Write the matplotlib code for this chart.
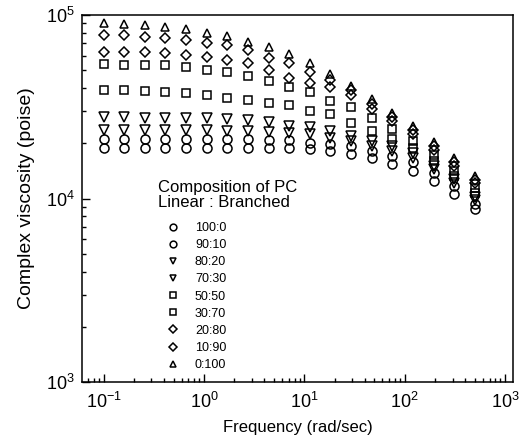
import matplotlib
matplotlib.use("Agg")
from matplotlib import pyplot as plt

plt.rcParams['font.family'] = ['Liberation Sans', 'DejaVu Sans']

# 角频率 (rad/sec)
freq = [0.1, 0.1605, 0.2576, 0.4135, 0.6637, 1.065, 1.710, 2.745, 4.406, 7.072,
        11.35, 18.22, 29.24, 46.94, 75.34, 120.9, 194.1, 311.5, 500.0]

# 复数粘度 (poise)，线性:支化 PC 各配比
eta_100_0 = [18900, 18900, 18900, 18900, 18900, 18900, 18900, 18900, 18900, 18900,
             18660, 18210, 17540, 16670, 15450, 14150, 12470, 10580, 8760]
eta_90_10 = [21180, 21180, 21180, 21180, 21180, 21180, 21180, 21180, 20910, 20910,
             20140, 19890, 19390, 18210, 17100, 15850, 13800, 11710, 9330]
eta_80_20 = [23720, 23720, 23720, 23720, 23720, 23720, 23430, 23430, 23130, 22850,
             22560, 21450, 20650, 19390, 18210, 16670, 14510, 12160, 9810]
eta_70_30 = [27960, 27960, 27610, 27610, 27610, 27610, 27260, 26920, 26250, 24960,
             24650, 23430, 22000, 20650, 19390, 17760, 15070, 12790, 10190]
eta_50_50 = [38820, 38820, 38330, 37850, 37380, 36440, 35530, 34640, 33360, 32530,
             30160, 29030, 25920, 23430, 21180, 18900, 16050, 13290, 10720]
eta_30_70 = [53880, 53200, 53200, 53200, 51870, 49950, 48710, 46310, 43480, 40310,
             37850, 34210, 31720, 27610, 24030, 20650, 17320, 14150, 11420]
eta_20_80 = [62700, 62700, 62700, 61920, 60370, 58870, 56670, 54560, 49950, 45150,
             42400, 40310, 36440, 30930, 26580, 22560, 18440, 15070, 12160]
eta_10_90 = [77700, 77700, 75760, 74810, 72950, 70230, 68480, 64300, 58120, 54560,
             48710, 44030, 38820, 32940, 27960, 23730, 19390, 15850, 12630]
eta_0_100 = [90430, 89300, 88100, 85900, 83850, 79690, 76730, 71130, 66780, 61140,
             54560, 47500, 40820, 35080, 29410, 24960, 20390, 16670, 13290]

labels = ['100:0', '90:10', '80:20', '70:30', '50:50', '30:70', '20:80', '10:90', '0:100']
series = [eta_100_0, eta_90_10, eta_80_20, eta_70_30, eta_50_50,
          eta_30_70, eta_20_80, eta_10_90, eta_0_100]
markers = ['o', 'o', 'v', 'v', 's', 's', 'D', 'D', '^']
sizes = [6.5, 6.5, 6.5, 6.5, 6, 6, 5.5, 5.5, 6]

fig = plt.figure(figsize=(5.24, 4.48), dpi=100)
ax = fig.add_axes([0.1565, 0.147, 0.8225, 0.8195])

handles = []
for y, m, s, lab in zip(series, markers, sizes, labels):
    h, = ax.plot(freq, y, linestyle='none', marker=m, markersize=s,
                 markerfacecolor='none', markeredgecolor='black',
                 markeredgewidth=1.1, label=lab)
    handles.append(h)

ax.set_xscale('log')
ax.set_yscale('log')
ax.set_xlim(0.061, 1200)
ax.set_ylim(1e3, 1e5)

ax.tick_params(which='both', direction='in', labelsize=13, width=1)
ax.tick_params(which='major', length=6)
ax.tick_params(which='minor', length=3)
ax.tick_params(axis='x', pad=7)
ax.tick_params(axis='y', pad=5)
for sp in ax.spines.values():
    sp.set_linewidth(1.1)

ax.set_xlabel('Frequency (rad/sec)', fontsize=12, labelpad=6)
ax.set_ylabel('Complex viscosity (poise)', fontsize=14, labelpad=8)

# 图例标题和图例
ax.text(0.176, 0.55, 'Composition of PC\nLinear : Branched', transform=ax.transAxes,
        fontsize=12, va='top', ha='left', linespacing=1.0)
ax.legend(handles=handles, loc='upper left', bbox_to_anchor=(0.175, 0.453),
          frameon=False, fontsize=9, markerscale=0.75, labelspacing=0.41,
          handletextpad=1.0, handlelength=1.5, borderpad=0)

plt.savefig('out.png', dpi=100)
